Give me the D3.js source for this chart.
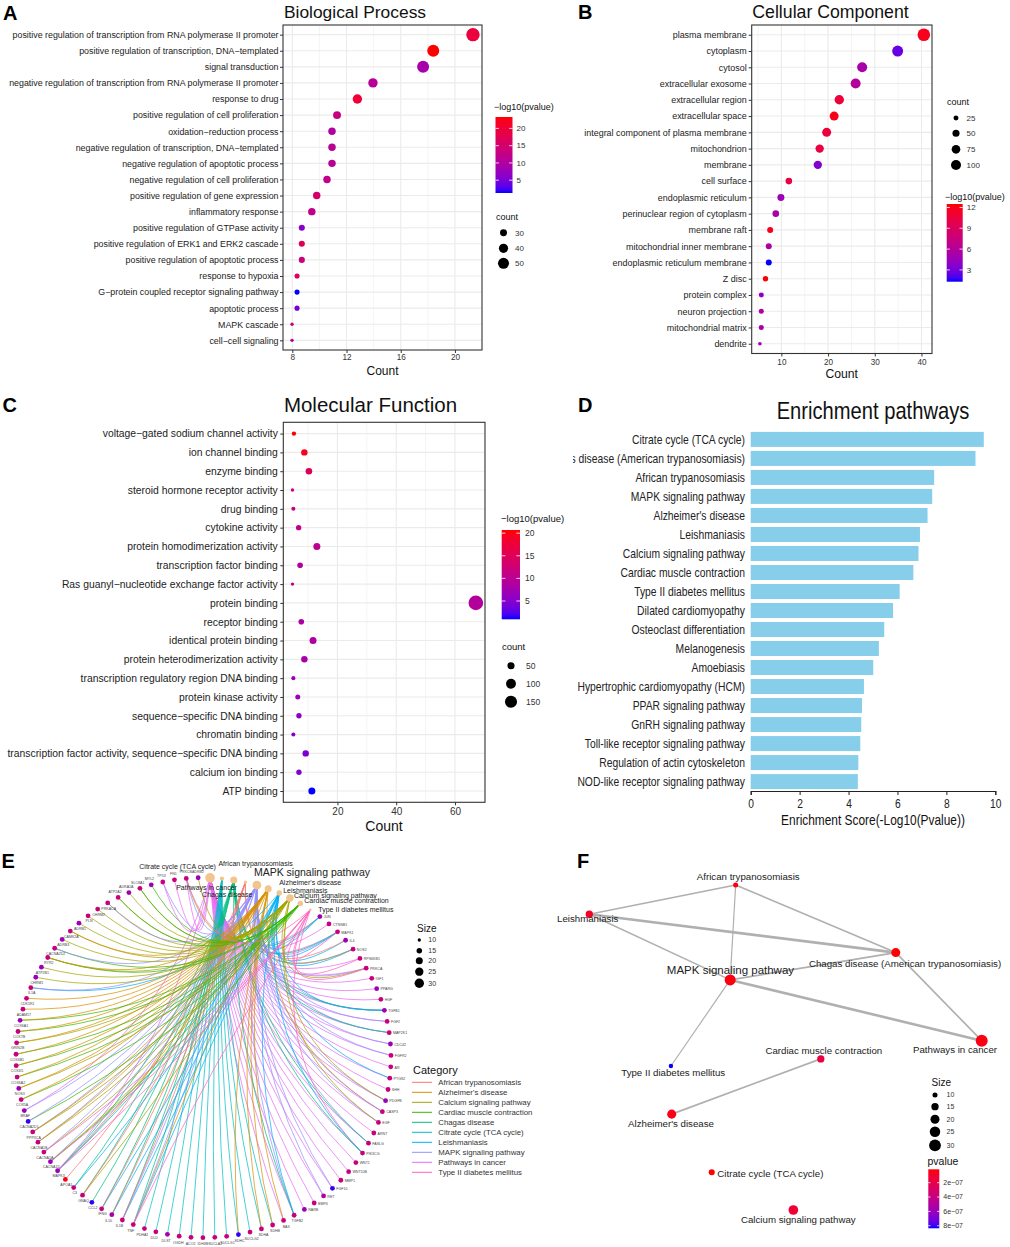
<!DOCTYPE html>
<html>
<head>
<meta charset="utf-8">
<script src="https://cdn.jsdelivr.net/npm/d3@7/dist/d3.min.js"></script>
<style>
html,body{margin:0;padding:0;background:#fff;}
svg{display:block;}
</style>
</head>
<body>
<svg id="fig" width="1010" height="1247" xmlns="http://www.w3.org/2000/svg"></svg>
<script>
// ================= DATA =================
// Panel A - Biological Process
const bpTerms = [
 "positive regulation of transcription from RNA polymerase II promoter",
 "positive regulation of transcription, DNA\u2212templated",
 "signal transduction",
 "negative regulation of transcription from RNA polymerase II promoter",
 "response to drug",
 "positive regulation of cell proliferation",
 "oxidation\u2212reduction process",
 "negative regulation of transcription, DNA\u2212templated",
 "negative regulation of apoptotic process",
 "negative regulation of cell proliferation",
 "positive regulation of gene expression",
 "inflammatory response",
 "positive regulation of GTPase activity",
 "positive regulation of ERK1 and ERK2 cascade",
 "positive regulation of apoptotic process",
 "response to hypoxia",
 "G\u2212protein coupled receptor signaling pathway",
 "apoptotic process",
 "MAPK cascade",
 "cell\u2212cell signaling"];
const bpCount = [21.33,18.4,17.65,13.95,12.8,11.3,10.93,10.93,10.93,10.56,9.8,9.44,8.7,8.7,8.7,8.35,8.35,8.35,7.98,7.98];
const bpLogP  = [19.5,23.3,9,11,20,13,10,11,11,12,15,12,6,17,14,16,1.3,5,13,11];
const bpSize  = [66,56,56,41,41,34,32,32,32,32,32,32,27,27,27,24,24,24,20,20];
const bpCountTicks = [8,12,16,20];
const bpColorTicks = [5,10,15,20];
const bpSizeLegend = [30,40,50];

// Panel B - Cellular Component
const ccTerms = ["plasma membrane","cytoplasm","cytosol","extracellular exosome","extracellular region",
 "extracellular space","integral component of plasma membrane","mitochondrion","membrane","cell surface",
 "endoplasmic reticulum","perinuclear region of cytoplasm","membrane raft","mitochondrial inner membrane",
 "endoplasmic reticulum membrane","Z disc","protein complex","neuron projection","mitochondrial matrix","dendrite"];
const ccCount = [40.5,34.9,27.3,25.9,22.4,21.3,19.7,18.2,17.8,11.6,9.9,8.8,7.6,7.3,7.3,6.6,5.7,5.7,5.7,5.4];
const ccLogP  = [11.8,2.6,5.2,6,10.8,12,10.6,10.3,3.5,10.3,4.7,5.2,12,5.5,1.3,12.5,4.1,5.8,5.2,4.7];
const ccSize  = [159,121,100,100,88,81,81,70,70,44,49,44,36,36,36,29,25,25,25,13];
const ccCountTicks = [10,20,30,40];
const ccColorTicks = [3,6,9,12];
const ccSizeLegend = [25,50,75,100];

// Panel C - Molecular Function
const mfTerms = ["voltage\u2212gated sodium channel activity","ion channel binding","enzyme binding",
 "steroid hormone receptor activity","drug binding","cytokine activity","protein homodimerization activity",
 "transcription factor binding","Ras guanyl\u2212nucleotide exchange factor activity","protein binding",
 "receptor binding","identical protein binding","protein heterodimerization activity",
 "transcription regulatory region DNA binding","protein kinase activity","sequence\u2212specific DNA binding",
 "chromatin binding","transcription factor activity, sequence\u2212specific DNA binding","calcium ion binding","ATP binding"];
const mfCount = [5.2,8.75,10.3,4.7,5,6.8,13,7.3,4.7,67.1,7.7,11.7,8.75,5,6.5,6.9,5,9.2,6.9,11.3];
const mfLogP  = [20.7,19.3,14.8,11.8,11.4,10.8,10.2,8.8,10.8,9.2,8.5,8.5,7.9,6.5,6.9,5.7,4.9,4.3,4.9,0.95];
const mfSize  = [18,41,43,10,15,28,49,31,10,220,31,49,41,15,24,28,15,41,28,49];
const mfCountTicks = [20,40,60];
const mfColorTicks = [5,10,15,20];
const mfSizeLegend = [50,100,150];

// Panel D - KEGG enrichment
const keggTerms = ["Citrate cycle (TCA cycle)","Chagas disease (American trypanosomiasis)","African trypanosomiasis",
 "MAPK signaling pathway","Alzheimer's disease","Leishmaniasis","Calcium signaling pathway","Cardiac muscle contraction",
 "Type II diabetes mellitus","Dilated cardiomyopathy","Osteoclast differentiation","Melanogenesis","Amoebiasis",
 "Hypertrophic cardiomyopathy (HCM)","PPAR signaling pathway","GnRH signaling pathway",
 "Toll-like receptor signaling pathway","Regulation of actin cytoskeleton","NOD-like receptor signaling pathway"];
const keggScore = [9.53,9.19,7.5,7.42,7.23,6.92,6.86,6.65,6.09,5.82,5.46,5.24,5.01,4.63,4.55,4.52,4.48,4.4,4.38];
const keggTicks = [0,2,4,6,8,10];

// Panels E/F - pathways
const pathwayNames = ["African trypanosomiasis","Alzheimer's disease","Calcium signaling pathway",
 "Cardiac muscle contraction","Chagas disease","Citrate cycle (TCA cycle)","Leishmaniasis",
 "MAPK signaling pathway","Pathways in cancer","Type II diabetes mellitus"];
const pathwayNamesF = ["African trypanosomiasis","Alzheimer's disease","Calcium signaling pathway",
 "Cardiac muscle contraction","Chagas disease (American trypanosomiasis)","Citrate cycle (TCA cycle)","Leishmaniasis",
 "MAPK signaling pathway","Pathways in cancer","Type II diabetes mellitus"];
const pathwayGeneCount = [10,20,22,15,20,12,15,27,31,9];
const pathwayPvalue = [3e-8,5e-8,1.3e-7,1.7e-7,1.5e-8,1.3e-8,8e-8,3.5e-8,4e-8,8.36e-7];
const cnetCircleOrder = [8,5,4,0,7,1,6,2,3,9];
const cnetGenes = ["JUN","CTNNB1","MAPK1","IL4","NOS2","RPS6KB1","PRKCA","IGF1","PPARG","HGF","TGFB1","FGF2",
 "MAP2K1","CDC42","FGFR2","AR","PTGS2","SHH","PDGFB","CASP3","EGF","ARNT","FASLG","PIK3CG","WNT1","WNT10B",
 "MMP1","FGF10","RET","BMP4","RARB","TGFB2","BAX",
 "SDHB","SDHA","SUCLG2","SDHC","SUCLG1","SUCLA2","IDH3B",
 "ACO2","OGDH","DLST","DLD","PDHA1","TNF","IL1B","IL10","IFNG","CCL2","GNAQ","C3","APOA1","MAPK3","CACNA1D",
 "CACNA1A","CACNA1B","PPP3CA","CACNA2D1","BRAF","COX5A","NOS3","COX6A2","COX4I1","COX6B1","GRIN2B","COX7B",
 "COX6A1","ADAM17","CDK5R1","IL1A","CHRM1","ATP2B1","RYR2","CACNA2D2","ADRB3","CAMK2A","ADRB1","PLN","CHRM2",
 "PRKACA","ATP2A2","ADRA1A","SLC8A1","MYL2","TP53","FN1","PRKCB","ADRB2"];
const cnetGeneShade = [0.3,0.55,0.55,0.3,0.55,0.55,0.55,0.55,0.3,0.55,0.3,0.55,0.55,0.3,0.55,0.55,0.55,0.55,0.3,0.55,0.55,0.55,0.55,0.55,0.55,0.55,0.55,0.03,0.4,0.55,0.3,0.55,0.55,
 0.55,0.55,0.55,0.03,0.55,0.55,0.55,
 0.55,0.55,0.35,0.55,0.55,0.55,0.55,0.35,0.55,0.03,0.55,0.55,0.97,0.3,0.3,0.55,0.55,0.55,0.03,0.3,0.55,0.3,0.55,0.55,0.55,0.55,0.55,
 0.3,0.55,0.55,0.55,0.3,0.3,0.55,0.55,0.3,0.55,0.3,0.55,0.55,0.55,0.55,0.3,0.55,0.3,0.55,0.55,0.55,0.3];
const cnetGeneLinks = [[8,7,4,6],[8],[8,7,4,6,9],[6,0],[6,4,0],[9,8],[8,7,2,9],[8],[8],[8],[8,7,4,6],[8,7],
 [8,7,4],[8,7],[8,7],[8],[8,6],[8],[8,7,2],[8,1,7],[8,7,2],[8],[8,7,4],[8,9,4,6],[8],[8],
 [8],[8,7],[8,7],[8],[8],[8,7,4,6],[8,1],
 [5,1],[5,1],[5],[5,1],[5],[5],[5],
 [5],[5],[5],[5],[5],[4,6,1,7,9],[4,6,7,0],[4,6,0],[4,6,0],[4],[4,2,0],[6,4],[0],[7,1,4,6,8,9],[2,7,3,9],
 [2,7,9],[2,7,1],[2,7,1],[3,7],[8,7],[3,1],[2,1],[3,1],[3,1],[3,1],[1,2],[3,1],
 [3,1],[1],[1],[6,7],[2],[2],[2,3,1],[3,7],[2],[2,1],[2],[2],[2],
 [2,7],[2,3],[2],[2,3],[3],[8,7],[8],[8,7,2,9],[2]];
const sizeLegendEF = [10,15,20,25,30];
const pvalueTicksF = [2e-7,4e-7,6e-7,8e-7];
// Panel F - enrichment map graph: layout coordinates (layout units 0-100) and similarity edges
const emapLayoutX = [37.3,21.0,52.0,59.0,78.1,31.2,0,35.9,100,20.8];
const emapLayoutY = [0,70.5,100,53.5,20.8,88.4,9.0,29.2,47.9,55.7];
const emapEdges = [[0,6,0.3],[0,4,0.35],[0,7,0.25],[6,4,0.55],[6,7,0.3],[7,4,0.35],[7,8,0.55],[4,8,0.35],[7,9,0.25],[3,1,0.35]];

// ================= STYLE / LAYOUT =================
const FONT = '"Liberation Sans", Arial, Helvetica, sans-serif';
const hue10 = ["#F8766D","#D89000","#A3A500","#39B600","#00BF7D","#00BFC4","#00B0F6","#9590FF","#E76BF3","#FF62BC"];
const svg = d3.select("#fig").attr("font-family", FONT);
const defs = svg.append("defs");
svg.append("rect").attr("width",1010).attr("height",1247).attr("fill","#fff");

function labScale(domain, colors){
  return d3.scaleLinear().domain(domain).range(colors).interpolate(d3.interpolateLab);
}

function colorbar(o){
  const g = svg.append("g");
  const col = labScale(o.domain, o.colors);
  const grad = defs.append("linearGradient").attr("id", o.id)
    .attr("x1",0).attr("x2",0).attr("y1", o.reverse?0:1).attr("y2", o.reverse?1:0);
  d3.range(0,21).forEach(i=>{
    const t=i/20;
    grad.append("stop").attr("offset",t).attr("stop-color", col(o.domain[0]+t*(o.domain[1]-o.domain[0])));
  });
  g.append("rect").attr("x",o.x).attr("y",o.y).attr("width",o.w).attr("height",o.h).attr("fill",`url(#${o.id})`);
  const ys = d3.scaleLinear().domain(o.domain).range(o.reverse?[o.y,o.y+o.h]:[o.y+o.h,o.y]);
  o.ticks.forEach(v=>{
    const yy = ys(v);
    g.append("line").attr("x1",o.x).attr("x2",o.x+o.w*0.2).attr("y1",yy).attr("y2",yy).attr("stroke","#fff").attr("stroke-width",0.8);
    g.append("line").attr("x1",o.x+o.w*0.8).attr("x2",o.x+o.w).attr("y1",yy).attr("y2",yy).attr("stroke","#fff").attr("stroke-width",0.8);
    g.append("text").attr("x",o.x+o.w+o.labGap).attr("y",yy).attr("dy","0.35em")
      .attr("font-size",o.fs).attr("fill","#333").text(o.fmt? o.fmt(v): v);
  });
  g.append("text").attr("x",o.tx).attr("y",o.ty).attr("font-size",o.tfs).attr("fill","#111").text(o.title);
}

function sizeLegend(o){
  const g = svg.append("g");
  g.append("text").attr("x",o.tx).attr("y",o.ty).attr("font-size",o.tfs).attr("fill","#111").text(o.title);
  o.values.forEach((v,i)=>{
    const yy = o.ys[i];
    g.append("circle").attr("cx",o.cx).attr("cy",yy).attr("r",o.rad(v)).attr("fill","#000");
    g.append("text").attr("x",o.lx).attr("y",yy).attr("dy","0.35em").attr("font-size",o.fs).attr("fill","#333").text(v);
  });
}

function areaScale(values, r0, r1){
  const a = d3.scaleLinear().domain(d3.extent(values)).range([r0*r0, r1*r1]);
  return v => Math.sqrt(Math.max(0.3, a(v)));
}

function dotPanel(o){
  const g = svg.append("g");
  const [x0,x1,y0,y1] = o.box;
  const ext = d3.extent(o.count), pad = (ext[1]-ext[0])*0.05;
  const x = d3.scaleLinear().domain([ext[0]-pad, ext[1]+pad]).range([x0,x1]);
  const y = d3.scalePoint().domain(o.terms).range([y0,y1]).padding(0.6);
  const col = labScale(d3.extent(o.logp), ["blue","red"]);
  const rad = areaScale(o.size, o.r[0], o.r[1]);
  const dom = x.domain();
  g.append("rect").attr("x",x0).attr("y",y0).attr("width",x1-x0).attr("height",y1-y0).attr("fill","#fff");
  const minor = o.minor.filter(v=>v>=dom[0]&&v<=dom[1]);
  g.selectAll(".mn").data(minor).join("line").attr("x1",x).attr("x2",x).attr("y1",y0).attr("y2",y1)
    .attr("stroke","#ebebeb").attr("stroke-width",0.55);
  g.selectAll(".mj").data(o.ticks).join("line").attr("x1",x).attr("x2",x).attr("y1",y0).attr("y2",y1)
    .attr("stroke","#ebebeb").attr("stroke-width",1.1);
  g.selectAll(".hy").data(o.terms).join("line").attr("x1",x0).attr("x2",x1).attr("y1",d=>y(d)).attr("y2",d=>y(d))
    .attr("stroke","#ebebeb").attr("stroke-width",1.1);
  g.selectAll("circle.dot").data(o.terms).join("circle").attr("class","dot")
    .attr("cx",(d,i)=>x(o.count[i])).attr("cy",d=>y(d)).attr("r",(d,i)=>rad(o.size[i]))
    .attr("fill",(d,i)=>col(o.logp[i]));
  g.append("rect").attr("x",x0).attr("y",y0).attr("width",x1-x0).attr("height",y1-y0)
    .attr("fill","none").attr("stroke","#333").attr("stroke-width",1.1);
  const ay = g.append("g").attr("transform",`translate(${x0},0)`)
    .call(d3.axisLeft(y).tickSize(3).tickPadding(o.yPad));
  ay.select(".domain").remove();
  ay.attr("font-family",FONT).attr("font-size",o.labelFs);
  ay.selectAll("line").attr("stroke","#333");
  ay.selectAll("text").attr("fill","#222");
  const ax = g.append("g").attr("transform",`translate(0,${y1})`)
    .call(d3.axisBottom(x).tickValues(o.ticks).tickSize(3).tickPadding(o.xPad));
  ax.select(".domain").remove();
  ax.attr("font-family",FONT).attr("font-size",o.tickFs);
  ax.selectAll("line").attr("stroke","#333");
  ax.selectAll("text").attr("fill","#333");
  g.append("text").attr("x",o.xTitle[0]).attr("y",o.xTitle[1]).attr("text-anchor","middle")
    .attr("font-size",o.xTitleFs).attr("fill","#111").text("Count");
  g.append("text").attr("x",o.title[0]).attr("y",o.title[1]).attr("text-anchor","middle")
    .attr("font-size",o.titleFs).attr("fill","#111").text(o.titleText);
  return {col, rad};
}

// ---------- Panel A ----------
const A = dotPanel({terms:bpTerms, count:bpCount, logp:bpLogP, size:bpSize, box:[283,482,25,350],
  r:[1.7,6.7], ticks:bpCountTicks, minor:[6,10,14,18,22], labelFs:8.85, tickFs:8.2, yPad:1.5, xPad:1.2,
  xTitle:[382.5,374.5], xTitleFs:12, title:[355,17.5], titleFs:17.4, titleText:"Biological Process"});
colorbar({id:"gA", x:495.5, y:117, w:17, h:76, domain:d3.extent(bpLogP), colors:["blue","red"], ticks:bpColorTicks,
  labGap:4, fs:8, tx:494, ty:110, tfs:9, title:"\u2212log10(pvalue)"});
sizeLegend({title:"count", tx:496, ty:220, tfs:9, values:bpSizeLegend, ys:[232.7,248.3,263.3], cx:503.5, lx:515, fs:8, rad:A.rad});

// ---------- Panel B ----------
const B = dotPanel({terms:ccTerms, count:ccCount, logp:ccLogP, size:ccSize, box:[751.7,932,25,353.5],
  r:[1.8,6.3], ticks:ccCountTicks, minor:[5,15,25,35], labelFs:8.95, tickFs:8.2, yPad:2, xPad:3,
  xTitle:[841.7,377.5], xTitleFs:12.2, title:[830.5,17.5], titleFs:17.7, titleText:"Cellular Component"});
colorbar({id:"gB", x:946.7, y:204, w:16, h:77.7, domain:d3.extent(ccLogP), colors:["blue","red"], ticks:ccColorTicks,
  labGap:4, fs:8, tx:945, ty:200, tfs:9, title:"\u2212log10(pvalue)"});
sizeLegend({title:"count", tx:947, ty:105, tfs:9, values:ccSizeLegend, ys:[118,133.3,149.3,165], cx:956, lx:966.5, fs:8, rad:B.rad});

// ---------- Panel C ----------
const C = dotPanel({terms:mfTerms, count:mfCount, logp:mfLogP, size:mfSize, box:[283.3,485,422.3,802.3],
  r:[1.7,7.3], ticks:mfCountTicks, minor:[10,30,50,70], labelFs:10.35, tickFs:10, yPad:2.5, xPad:3,
  xTitle:[384,831], xTitleFs:14, title:[370.5,412], titleFs:20.5, titleText:"Molecular Function"});
colorbar({id:"gC", x:501.7, y:530, w:18.3, h:89.3, domain:d3.extent(mfLogP), colors:["blue","red"], ticks:mfColorTicks,
  labGap:5, fs:8.5, tx:501, ty:522, tfs:9.5, title:"\u2212log10(pvalue)"});
sizeLegend({title:"count", tx:502, ty:650, tfs:9.5, values:mfSizeLegend, ys:[665.7,683.7,701.7], cx:511, lx:526, fs:8.5, rad:C.rad});

// ---------- Panel D ----------
(function(){
  const NARROW = 0.82;
  defs.append("clipPath").attr("id","clipD").append("rect").attr("x",573).attr("y",380).attr("width",437).attr("height",460);
  const g = svg.append("g").attr("clip-path","url(#clipD)");
  const x = d3.scaleLinear().domain([0,10]).range([750.7,995.3]);
  const y = d3.scaleBand().domain(keggTerms).range([430,791]).paddingInner(0.21).paddingOuter(0.1);
  g.selectAll("rect.bar").data(keggTerms).join("rect").attr("class","bar")
    .attr("x",x(0)).attr("y",d=>y(d)).attr("width",(d,i)=>x(keggScore[i])-x(0)).attr("height",y.bandwidth())
    .attr("fill","#87CEEB");
  g.selectAll("text.lab").data(keggTerms).join("text").attr("class","lab")
    .attr("transform",d=>`translate(745,${y(d)+y.bandwidth()/2}) scale(${NARROW},1)`)
    .attr("text-anchor","end").attr("dy","0.35em").attr("font-size",12.6).attr("fill","#222").text(d=>d);
  const ax = g.append("g").attr("transform","translate(0,791)")
    .call(d3.axisBottom(x).tickValues(keggTicks).tickSize(4).tickPadding(4).tickFormat(d3.format("d")));
  ax.attr("font-family",FONT).attr("font-size",12.5);
  ax.select(".domain").attr("stroke","#222").attr("stroke-width",1.1);
  ax.selectAll("line").attr("stroke","#222");
  ax.selectAll("text").attr("fill","#222").attr("transform",`scale(${NARROW},1)`);
  g.append("text").attr("transform",`translate(873,825) scale(0.85,1)`).attr("text-anchor","middle")
    .attr("font-size",14).attr("fill","#111").text("Enrichment Score(-Log10(Pvalue))");
  g.append("text").attr("transform",`translate(873,418.5) scale(0.84,1)`).attr("text-anchor","middle")
    .attr("font-size",24).attr("fill","#111").text("Enrichment pathways");
})();

// ---------- Panel E ----------
(function(){
  const g = svg.append("g");
  const cx=203.5, cy=1057.7, rx=187.5, ry=180;
  const nCat = cnetCircleOrder.length, N = nCat + cnetGenes.length;
  const th0 = 2*Math.PI/180;
  const ang = d3.scaleLinear().domain([0,N]).range([th0, th0+2*Math.PI]);
  const px = d3.scaleLinear().domain([-1,1]).range([cx-rx,cx+rx]);
  const py = d3.scaleLinear().domain([-1,1]).range([cy-ry,cy+ry]);
  const pos = k => [px(Math.sin(ang(k))), py(-Math.cos(ang(k)))];
  const catPos = {};
  cnetCircleOrder.forEach((c,i)=>catPos[c]=pos(i));
  const genePos = cnetGenes.map((_,i)=>pos(nCat+i));
  const links = [];
  cnetGeneLinks.forEach((cs,i)=>cs.forEach(c=>links.push({g:i,c:c})));
  const bend = 0.58;
  g.selectAll("path.edge").data(links).join("path").attr("class","edge")
    .attr("d",d=>{
      const a=genePos[d.g], b=catPos[d.c];
      const mx=(a[0]+b[0])/2, my=(a[1]+b[1])/2;
      const qx=mx+bend*(cx-mx), qy=my+bend*(cy-my);
      return `M${a[0]},${a[1]}Q${qx},${qy} ${b[0]},${b[1]}`;
    })
    .attr("fill","none").attr("stroke",d=>hue10[d.c]).attr("stroke-width",0.85).attr("stroke-opacity",0.85);
  const gcol = labScale([0,1],["blue","red"]);
  g.selectAll("circle.gene").data(cnetGenes).join("circle").attr("class","gene")
    .attr("cx",(d,i)=>genePos[i][0]).attr("cy",(d,i)=>genePos[i][1]).attr("r",2.4)
    .attr("fill",(d,i)=>gcol(cnetGeneShade[i]));
  // gene labels: right side beside the node, left side just below the node, radially at top/bottom
  const glab = i => {
    const a = ang(nCat+i), s = Math.sin(a), p = genePos[i];
    if (s > 0.5) return [p[0] + 3.8, p[1] + 0.5, "start"];
    if (s < -0.5) return [p[0] + 1, p[1] + 5.3, "middle"];
    return [p[0] + 6.5*s, p[1] - 6.5*Math.cos(a), "middle"];
  };
  g.selectAll("text.gl").data(cnetGenes).join("text").attr("class","gl")
    .attr("x",(d,i)=>glab(i)[0]).attr("y",(d,i)=>glab(i)[1]).attr("text-anchor",(d,i)=>glab(i)[2])
    .attr("dy","0.35em").attr("font-size",3.6).attr("fill","#444").text(d=>d);
  const radE = areaScale(pathwayGeneCount, 1.3, 4.8);
  g.selectAll("circle.cat").data(cnetCircleOrder).join("circle").attr("class","cat")
    .attr("cx",c=>catPos[c][0]).attr("cy",c=>catPos[c][1]).attr("r",c=>radE(pathwayGeneCount[c]))
    .attr("fill","#F2C48E");
  // category labels (repelled offsets)
  const labOff = {8:[-3.5,10,"middle",7],5:[-6,-12,"end",7],4:[-6.5,14.5,"middle",7],0:[-27,-18.5,"start",7],
    7:[-3,-12.5,"start",10.5],1:[11,-6,"start",7],6:[4,-2.5,"start",7],2:[4,-2,"start",7],3:[4,-2.8,"start",7],9:[8,0,"start",7]};
  cnetCircleOrder.forEach(c=>{
    const o = labOff[c], p = catPos[c];
    g.append("text").attr("x",p[0]+o[0]).attr("y",p[1]+o[1]).attr("dy","0.35em").attr("text-anchor",o[2])
      .attr("font-size",o[3]).attr("fill","#222").text(pathwayNames[c]);
  });
  // Size legend
  sizeLegend({title:"Size", tx:417, ty:931.5, tfs:10, values:sizeLegendEF, ys:[940,950.7,960.7,971.7,983.3], cx:419.3, lx:428.3, fs:7, rad:radE});
  // Category legend
  g.append("text").attr("x",413).attr("y",1074).attr("font-size",11).attr("fill","#111").text("Category");
  pathwayNames.forEach((nm,i)=>{
    const yy = 1082.3 + i*10;
    g.append("line").attr("x1",412).attr("x2",432).attr("y1",yy).attr("y2",yy).attr("stroke",hue10[i]).attr("stroke-width",1);
    g.append("text").attr("x",438.3).attr("y",yy).attr("dy","0.35em").attr("font-size",7.8).attr("fill","#333").text(nm);
  });
})();

// ---------- Panel F ----------
(function(){
  const g = svg.append("g");
  const x = d3.scaleLinear().domain([0,100]).range([589.3,981.7]);
  const y = d3.scaleLinear().domain([0,100]).range([885,1210]);
  const w = d3.scaleLinear().domain(d3.extent(emapEdges,e=>e[2])).range([1.2,2.6]);
  g.selectAll("line.e").data(emapEdges).join("line").attr("class","e")
    .attr("x1",e=>x(emapLayoutX[e[0]])).attr("y1",e=>y(emapLayoutY[e[0]]))
    .attr("x2",e=>x(emapLayoutX[e[1]])).attr("y2",e=>y(emapLayoutY[e[1]]))
    .attr("stroke","#b0b0b0").attr("stroke-width",e=>w(e[2]));
  const col = labScale(d3.extent(pathwayPvalue), ["red","blue"]);
  const radF = areaScale(pathwayGeneCount, 2.2, 6.0);
  g.selectAll("circle.n").data(pathwayNamesF).join("circle").attr("class","n")
    .attr("cx",(d,i)=>x(emapLayoutX[i])).attr("cy",(d,i)=>y(emapLayoutY[i]))
    .attr("r",(d,i)=>radF(pathwayGeneCount[i])).attr("fill",(d,i)=>col(pathwayPvalue[i]));
  const off = [[12.6,-8.3,"middle"],[-0.7,9.3,"middle"],[5,10,"middle"],[3,-8.3,"middle"],[9.3,10.6,"middle"],
    [5.6,1,"start"],[-1.6,4.7,"middle"],[0.3,-10,"middle"],[-26.7,9.3,"middle"],[2.3,6.7,"middle"]];
  pathwayNamesF.forEach((nm,i)=>{
    g.append("text").attr("x",x(emapLayoutX[i])+off[i][0]).attr("y",y(emapLayoutY[i])+off[i][1]).attr("dy","0.35em")
      .attr("text-anchor",off[i][2]).attr("font-size", i===7?11.5:9.7).attr("fill","#222").text(nm);
  });
  sizeLegend({title:"Size", tx:931.5, ty:1085.5, tfs:10, values:sizeLegendEF, ys:[1095,1106.7,1119.3,1131.7,1145.3], cx:935, lx:946.5, fs:7, rad:radF});
  colorbar({id:"gF", x:928.3, y:1169.3, w:11, h:59, domain:d3.extent(pathwayPvalue), colors:["red","blue"], reverse:true,
    ticks:pvalueTicksF, labGap:4, fs:7, tx:927.5, ty:1164.5, tfs:10.5, title:"pvalue",
    fmt:v=>(Math.round(v*1e7)) + "e\u221207"});
})();

// ---------- Panel letters ----------
[["A",3,20.3],["B",578,18.5],["C",2.5,411.7],["D",578,411.7],["E",1.5,868.3],["F",577,868.3]].forEach(l=>{
  svg.append("text").attr("x",l[1]).attr("y",l[2]).attr("font-size",20).attr("font-weight","bold").attr("fill","#000").text(l[0]);
});
</script>
</body>
</html>
